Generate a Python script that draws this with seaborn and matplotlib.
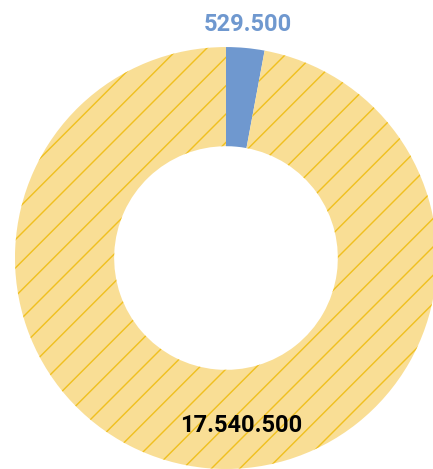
import matplotlib
matplotlib.use("Agg")
import matplotlib.pyplot as plt
import seaborn as sns

# data
labels = ["529.500", "17.540.500"]
values = [529500, 17540500]
colors = ["#6f98cf", "#f9de95"]
label_colors = ["#6f98cf", "#000000"]

sns.set_style("white")
plt.rcParams['font.family'] = ['Roboto', 'DejaVu Sans']
plt.rcParams['hatch.linewidth'] = 1.2

DPI = 85  # smaller dpi -> tighter hatch spacing
fig = plt.figure(figsize=(433 / DPI, 469 / DPI), dpi=DPI)
ax = fig.add_axes([0, 0, 1, 1])

wedges, _ = ax.pie(values, colors=colors, startangle=90, counterclock=False,
                   radius=1.0, wedgeprops=dict(width=0.47, linewidth=0))

# hatch on the big slice
big = wedges[1]
big.set_hatch('/')
big.set_edgecolor('#f0c020')
big.set_linewidth(0)

ax.text(0.104, 1.105, labels[0], color=label_colors[0], fontsize=20,
        fontweight='bold', ha='center', va='center')
ax.text(0.071, -0.795, labels[1], color=label_colors[1], fontsize=20,
        fontweight='bold', ha='center', va='center')

ax.set_xlim(-1.071, 0.981)
ax.set_ylim(-1.0, 1.223)
ax.set_aspect('auto')
ax.axis('off')

fig.savefig("out.png", dpi=DPI)
